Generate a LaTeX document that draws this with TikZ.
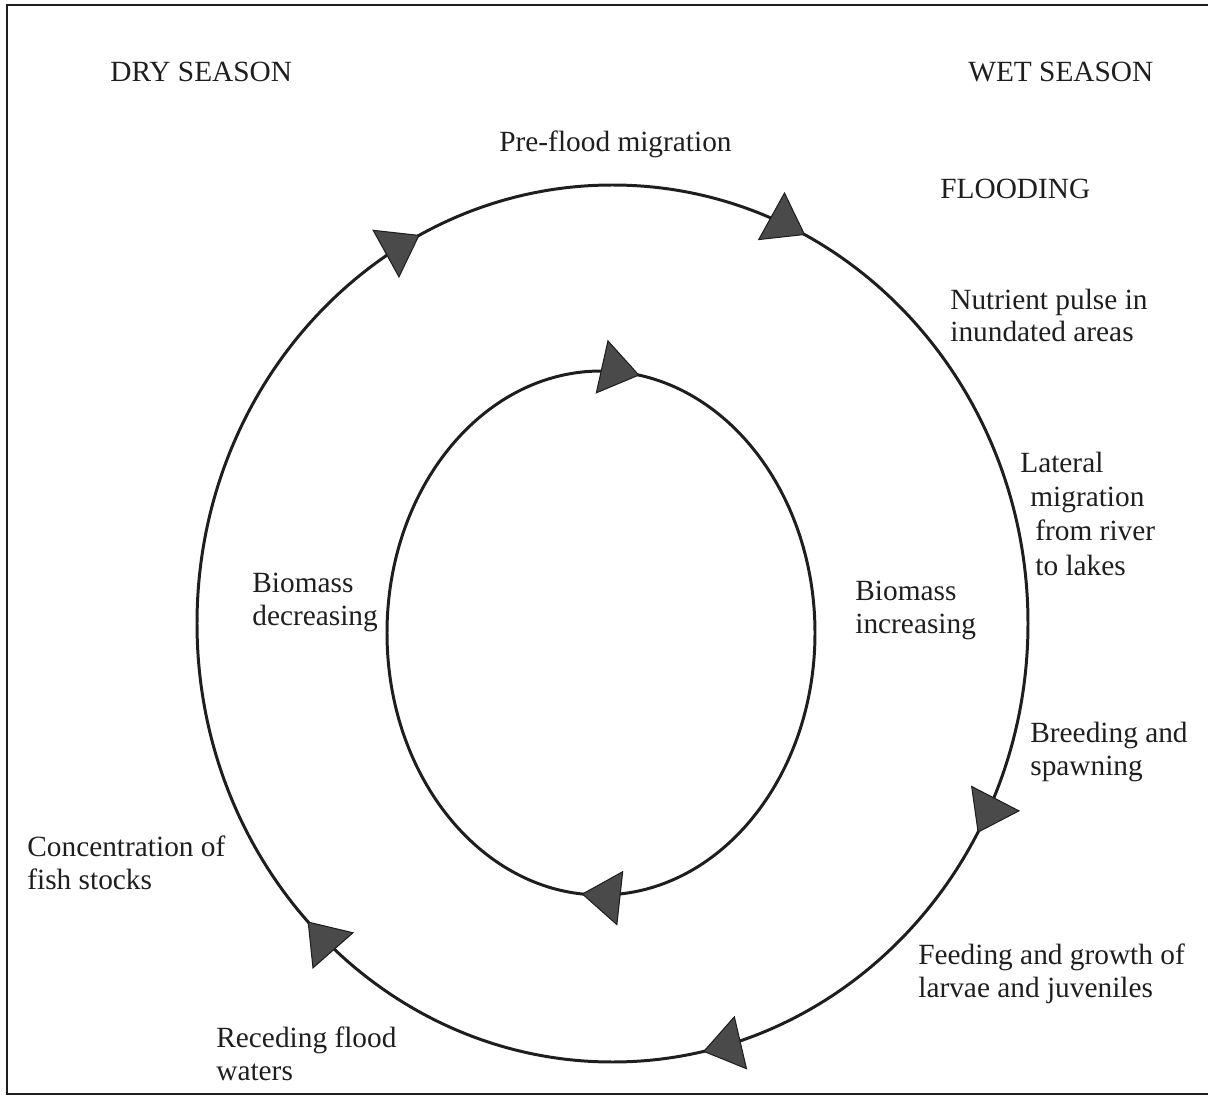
\documentclass[tikz,border=0pt]{standalone}
\usepackage{fontspec}
\setmainfont{Liberation Serif}
\usetikzlibrary{arrows.meta,decorations.markings}
\definecolor{ink}{HTML}{1E1E1E}
\definecolor{tipfill}{HTML}{4A4A4A}

\begin{document}
\begin{tikzpicture}[x=.02cm,y=-.02cm,text=ink,
  lbl/.style={anchor=base west,align=left,inner sep=0pt,
    font=\fontsize{16.7}{18.6}\selectfont},
  loop/.style={draw=ink,line width=1.7pt},
  frame/.style={draw=ink,line width=1.4pt},
  cyctip/.tip={Triangle[length=.78cm,width=1.1cm,fill=tipfill,line width=.6pt]},
  mk/.style={postaction={decorate,decoration={markings,
    mark=at position #1 with {\arrow{cyctip}}}}}]
\useasboundingbox (0,0) rectangle (1208,1108);

% page frame, open on the right
\draw[frame] (1208,5)--(7,5)--(7,1094)--(1208,1094);

% season headings
\node[lbl] (dry) at (110,82) {DRY SEASON};
\node[lbl] (wet) at (968,82) {WET SEASON};
\node[lbl] (preflood) at (499,152) {Pre-flood migration};
\node[lbl] (flood) at (940,199) {FLOODING};

% outer cycle: events through the year, clockwise
\coordinate (outerc) at (612.5,623.5);
\draw[loop,mk=.081,mk=.216,mk=.379,mk=.675,mk=.825]
  (outerc) ellipse [x radius=415.5,y radius=438.5];

% inner cycle: biomass
\coordinate (innerc) at (601,633);
\draw[loop,mk=.263,mk=.776]
  (innerc) ellipse [x radius=214,y radius=262];

% multi-line labels sit on the baseline of their last line
\node[lbl] (nutrient) at (950,342) {Nutrient pulse in\\inundated areas};
\node[lbl,font=\fontsize{16.7}{19.4}\selectfont] (lateral) at (1020,575)
  {Lateral\\\hspace*{.2cm}migration\\\hspace*{.3cm}from river\\\hspace*{.3cm}to lakes};
\node[lbl] (breeding) at (1030,775) {Breeding and\\spawning};
\node[lbl] (feeding) at (918,997) {Feeding and growth of\\larvae and juveniles};
\node[lbl] (receding) at (216,1080) {Receding flood\\waters};
\node[lbl] (concentr) at (27,889) {Concentration of\\fish stocks};
\node[lbl] (biodec) at (252,625) {Biomass\\decreasing};
\node[lbl] (bioinc) at (855,633) {Biomass\\increasing};
\end{tikzpicture}
\end{document}
